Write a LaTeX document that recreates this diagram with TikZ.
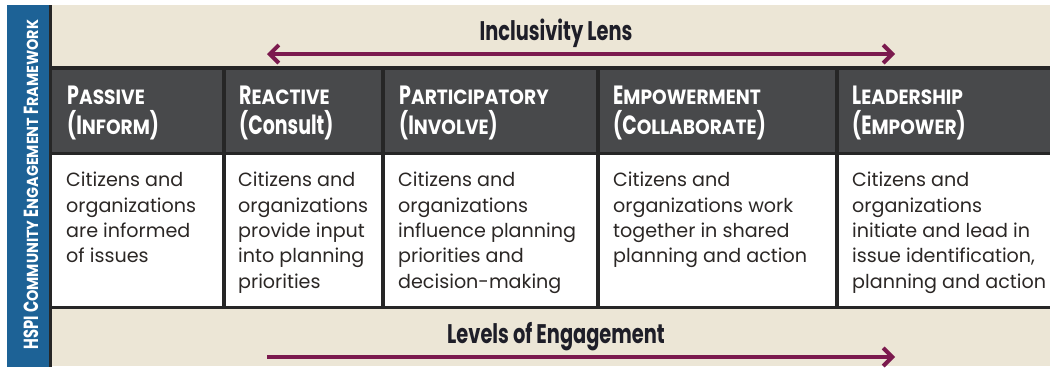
\documentclass[tikz,border=0pt]{standalone}
\usepackage{fontspec}
\usepackage{graphicx}
\usetikzlibrary{arrows.meta}
\setmainfont{Poppins}
\newfontfamily\condfont{Poppins}[FakeStretch=0.72]

\definecolor{paper}{HTML}{ECE6D6}
\definecolor{bandblue}{HTML}{1D6296}
\definecolor{headgray}{HTML}{48494B}
\definecolor{rulecol}{HTML}{262626}
\definecolor{maroon}{HTML}{7B1A4E}
\definecolor{inkdark}{HTML}{2B2725}
\definecolor{titleink}{HTML}{1E1E28}

% capital followed by reduced capitals (small-caps look, full width)
\newcommand\capsc[2]{#1\scalebox{0.98}[0.78]{#2}}

\tikzset{
  rulecolline/.style={draw=rulecol, line width=3.2bp},
  headtext/.style={anchor=north west, inner sep=0pt, align=left, text=white,
    font=\condfont\bfseries\fontsize{26.5}{30}\selectfont},
  bodytext/.style={anchor=north west, inner sep=0pt, align=left, text=inkdark,
    font=\fontsize{19.2}{25.5}\selectfont},
  titletext/.style={anchor=base, inner sep=0pt, text=titleink,
    font=\condfont\bfseries\fontsize{27}{27}\selectfont},
  lensarrow/.style={draw=maroon, line width=4bp,
    arrows={Straight Barb[length=9bp,width=18bp]-Straight Barb[length=9bp,width=18bp]}},
  levelarrow/.style={draw=maroon, line width=4bp,
    arrows={-Straight Barb[length=9bp,width=18bp]}},
}

\begin{document}
\begin{tikzpicture}[x=1bp,y=-1bp]
\useasboundingbox (0,0) rectangle (1050,368);
\fill[white] (0,0) rectangle (1050,368);
\fill[paper] (52,5) rectangle (1050,366);

% side band with its title
\fill[bandblue] (7,5) rectangle (49,367);
\draw[rulecolline, line width=3.5bp] (50.5,5) -- (50.5,367);
\node[rotate=90, inner sep=0pt, text=white,
  font=\condfont\bfseries\fontsize{20.5}{20.5}\selectfont] (band) at (31,184.5)
  {HSPI \capsc{C}{OMMUNITY} \capsc{E}{NGAGEMENT} \capsc{F}{RAMEWORK}};

% table cells
\fill[headgray] (52,68) rectangle (1050,154);
\fill[white] (52,154) rectangle (1050,308);
\draw[rulecolline] (52,68) -- (1050,68);
\draw[rulecolline] (52,153.5) -- (1050,153.5);
\draw[rulecolline] (52,307.5) -- (1050,307.5);
\foreach \xx in {224,383,598,837}
  \draw[rulecolline] (\xx,68) -- (\xx,308);

% level headings
\node[headtext] (h1) at (67,86) {\capsc{P}{ASSIVE}\\(\capsc{I}{NFORM})};
\node[headtext] (h2) at (239,86) {\capsc{R}{EACTIVE}\\(Consult)};
\node[headtext] (h3) at (399,86) {\capsc{P}{ARTICIPATORY}\\(\capsc{I}{NVOLVE})};
\node[headtext] (h4) at (613,86) {\capsc{E}{MPOWERMENT}\\(\capsc{C}{OLLABORATE})};
\node[headtext] (h5) at (852,86) {\capsc{L}{EADERSHIP}\\(\capsc{E}{MPOWER})};

% level descriptions
\node[bodytext] (b1) at (66,172) {Citizens and\\organizations\\are informed\\of issues};
\node[bodytext] (b2) at (238,172) {Citizens and\\organizations\\provide input\\into planning\\priorities};
\node[bodytext] (b3) at (398,172) {Citizens and\\organizations\\influence planning\\priorities and\\decision-making};
\node[bodytext] (b4) at (613,172) {Citizens and\\organizations work\\together in shared\\planning and action};
\node[bodytext] (b5) at (852,172) {Citizens and\\organizations\\initiate and lead in\\issue identification,\\planning and action};

% top and bottom scales
\node[titletext] (lens) at (556,40) {Inclusivity Lens};
\coordinate (lensL) at (267,54);
\coordinate (lensR) at (895,54);
\draw[lensarrow] (lensL) -- (lensR);

\node[titletext] (levels) at (556,343) {Levels of Engagement};
\coordinate (levL) at (267,357);
\coordinate (levR) at (895,357);
\draw[levelarrow] (levL) -- (levR);
\end{tikzpicture}
\end{document}
